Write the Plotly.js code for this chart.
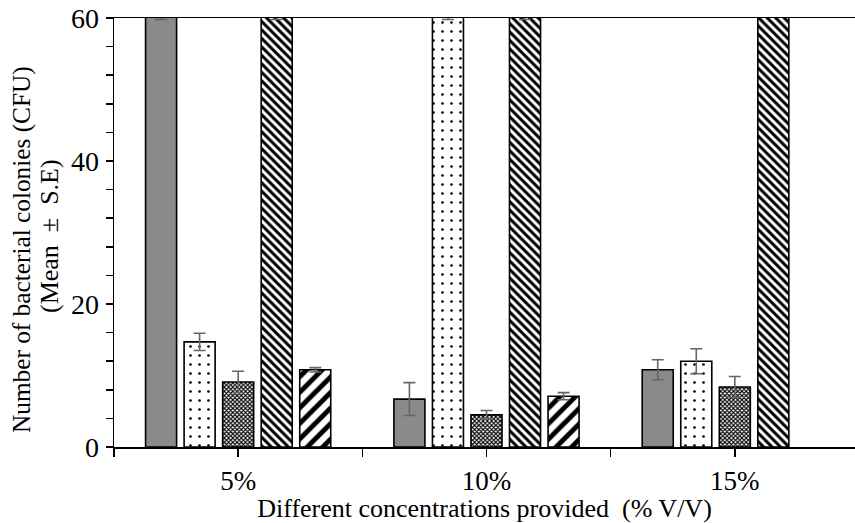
<!DOCTYPE html>
<html>
<head>
<meta charset="utf-8">
<script src="https://cdn.plot.ly/plotly-3.0.1.min.js"></script>
<style>html,body{margin:0;padding:0;background:#fff;}#chart{width:855px;height:523px;}</style>
</head>
<body>
<div id="chart"></div>
<script>
// Categories (group positions 0,1,2 on a linear axis)
const categories = ['5%', '10%', '15%'];
const positions = [0, 1, 2];

// Series values (bars above 60 are clipped in the original)
const series1 = [62.0, 6.7, 10.8];
const series1Err = [2.2, 2.3, 1.4];
const series2 = [14.7, 62.0, 12.0];
const series2Err = [1.2, 2.2, 1.75];
const series3 = [9.1, 4.5, 8.4];
const series3Err = [1.5, 0.6, 1.45];
const series4 = [62.0, 62.0, 62.0];
const series4Err = [2.2, 2.2, 0];
const series5 = [10.8, 7.1, null];
const series5Err = [0.3, 0.5, 0];

const xTickVals = [-0.5, 0, 0.5, 1, 1.5, 2, 2.5];
const xTickText = ['', categories[0], '', categories[1], '', categories[2], ''];

const yTitleLine1 = 'Number of bacterial colonies (CFU)';
const yTitleLine2 = '(Mean\u00a0\u00a0±\u00a0\u00a0S.E)';
const xTitle = 'Different concentrations provided  (% V/V)';

const errStyle = (arr) => ({type: 'data', array: arr, visible: true, color: '#666666', thickness: 1.6, width: 6});
const lineStyle = {color: '#000', width: 1.6};

const traces = [
  {type: 'bar', name: 'Series 1', x: positions, y: series1, error_y: errStyle(series1Err),
   marker: {color: '#8a8a8a', line: lineStyle}},
  {type: 'bar', name: 'Series 2', x: positions, y: series2, error_y: errStyle(series2Err),
   marker: {color: '#ffffff', line: lineStyle, pattern: {shape: '.', fgcolor: '#000', bgcolor: '#fff', size: 9, solidity: 0.07}}},
  {type: 'bar', name: 'Series 3', x: positions, y: series3, error_y: errStyle(series3Err),
   marker: {color: '#ffffff', line: lineStyle, pattern: {shape: 'x', fgcolor: '#000', bgcolor: '#fff', size: 3, solidity: 0.6}}},
  {type: 'bar', name: 'Series 4', x: positions, y: series4, error_y: errStyle(series4Err),
   marker: {color: '#ffffff', line: lineStyle, pattern: {shape: '\\', fgcolor: '#000', bgcolor: '#fff', size: 6, solidity: 0.5}}},
  {type: 'bar', name: 'Series 5', x: positions, y: series5, error_y: errStyle(series5Err),
   marker: {color: '#ffffff', line: lineStyle, pattern: {shape: '/', fgcolor: '#000', bgcolor: '#fff', size: 11, solidity: 0.45}}}
];

const font = {family: '"Liberation Serif", "Times New Roman", serif', color: '#000000'};

const layout = {
  width: 855, height: 523,
  margin: {l: 114, r: 0, t: 18, b: 76, pad: 0},
  paper_bgcolor: '#fff', plot_bgcolor: '#fff',
  showlegend: false,
  barmode: 'group', bargap: 0.224, bargroupgap: 0.195,
  font: Object.assign({size: 26}, font),
  xaxis: {
    type: 'linear', range: [-0.5, 2.484],
    tickmode: 'array', tickvals: xTickVals, ticktext: xTickText,
    ticks: 'outside', ticklen: 8, tickwidth: 1.5, tickcolor: '#000',
    showline: true, linecolor: '#000', linewidth: 1.5, mirror: true,
    showgrid: false, zeroline: false, automargin: false,
    tickfont: Object.assign({size: 27}, font),
    ticklabelstandoff: 1,
    title: {text: xTitle, font: Object.assign({size: 26}, font), standoff: 0}
  },
  yaxis: {
    range: [0, 60], dtick: 20, tick0: 0,
    ticks: 'outside', ticklen: 7, tickwidth: 1.5, tickcolor: '#000',
    minor: {dtick: 4, ticks: 'outside', ticklen: 7, tickwidth: 1.5, tickcolor: '#000', showgrid: false},
    showline: true, linecolor: '#000', linewidth: 1.5,
    showgrid: false, zeroline: false, automargin: false,
    tickfont: Object.assign({size: 28}, font),
    ticklabelstandoff: 1
  },
  annotations: [
    {text: yTitleLine1, xref: 'paper', yref: 'paper', x: (21 - 114) / 741, y: (447 - 250) / 429,
     xanchor: 'center', yanchor: 'middle', textangle: -90, showarrow: false, font: Object.assign({size: 25.3}, font)},
    {text: yTitleLine2, xref: 'paper', yref: 'paper', x: (49 - 114) / 741, y: (447 - 236) / 429,
     xanchor: 'center', yanchor: 'middle', textangle: -90, showarrow: false, font: Object.assign({size: 26}, font)}
  ]
};

Plotly.newPlot('chart', traces, layout, {displayModeBar: false, staticPlot: true});
</script>
</body>
</html>
